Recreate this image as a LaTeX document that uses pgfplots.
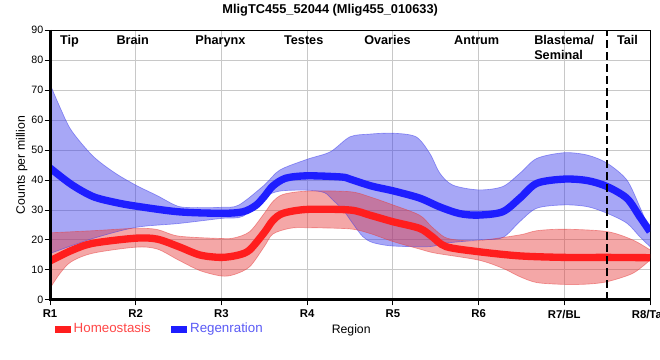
\documentclass[border=0pt]{standalone}
\usepackage{fontspec}
\setmainfont{Liberation Sans}
\usepackage{pgfplots}
\pgfplotsset{compat=1.18}
\usepgfplotslibrary{fillbetween}
\definecolor{hline}{RGB}{255,30,30}
\definecolor{rline}{RGB}{30,30,255}
\definecolor{hfill}{RGB}{230,60,60}
\definecolor{rfill}{RGB}{60,60,235}
\definecolor{htext}{RGB}{255,70,70}
\definecolor{rtext}{RGB}{90,90,245}
\definecolor{gridgray}{RGB}{200,200,200}
\begin{document}
\begin{tikzpicture}
\begin{axis}[
  at={(37.5pt,45pt)}, anchor=south west,
  width=450pt, height=202.5pt, scale only axis,
  xmin=1, xmax=8, ymin=0, ymax=90,
  xtick={1,...,8}, xticklabels={R1,R2,R3,R4,R5,R6,R7/BL,R8/Tail},
  ytick={0,10,...,90},
  grid=major, major grid style={color=gridgray, line width=0.75pt},
  tick align=outside, xtick pos=bottom, ytick pos=left,
  major tick length=4pt, tick style={black, line width=0.75pt},
  axis line style={black, line width=0.75pt},
  x tick label style={font=\bfseries\fontsize{8.5}{10}\selectfont},
  y tick label style={font=\fontsize{8}{10}\selectfont, xshift=2.5pt},
  /pgf/number format/assume math mode=true,
  xlabel={Region}, ylabel={Counts per million},
  xlabel style={at={(axis description cs:0.502,-0.111)}, anchor=center, font=\fontsize{9.2}{11}\selectfont},
  ylabel style={at={(axis description cs:-0.047,0.5)}, anchor=center, font=\fontsize{9.2}{11}\selectfont},
  title={MligTC455\_52044 (Mlig455\_010633)},
  every axis title shift=0pt,
  title style={at={(axis description cs:0.467,1.074)}, anchor=center, font=\bfseries\fontsize{9.6}{11}\selectfont},
  legend style={at={(axis description cs:0.008,-0.108)}, anchor=west, draw=none, fill=none,
    legend columns=2, font=\fontsize{10}{12}\selectfont, inner sep=0pt,
    /tikz/every even column/.append style={column sep=13.5pt}},
  legend image code/.code={\fill[#1] (0pt,-2.6pt) rectangle (12pt,2.6pt);},
]
% Regeneration band
\addplot[name path=bu, draw=rfill, draw opacity=0.5, line width=0.5pt, smooth, forget plot] coordinates {
(1,72) (1.12,64) (1.25,56.5) (1.5,48) (1.75,42.5) (2,38.3) (2.25,34.8) (2.5,31.2) (2.75,30.8) (3,30.9) (3.2,31.6) (3.5,38.3) (3.68,43.3) (4,46.9) (4.27,49.4) (4.5,54.4) (4.73,55.3) (5,55.6) (5.27,54.4) (5.43,48.9) (5.55,42.2) (5.7,38.3) (6,36.7) (6.28,37.8) (6.48,42.2) (6.68,47.2) (7,49.1) (7.27,48.3) (7.5,45.6) (7.73,40) (7.88,31.1) (8,23)};
\addplot[name path=bl, draw=rfill, draw opacity=0.5, line width=0.5pt, smooth, forget plot] coordinates {
(1,15.5) (1.5,20.5) (2,24.2) (2.5,25.5) (3,27.2) (3.25,27.9) (3.5,34.2) (3.68,36.3) (4,36.6) (4.2,35.8) (4.3,33.3) (4.42,30) (4.53,25.6) (4.65,21.1) (4.77,19.1) (5,18) (5.43,17.8) (5.6,18.9) (6,20) (6.28,20.8) (6.48,26.1) (6.68,30.6) (7,31.7) (7.27,31.1) (7.5,28.9) (7.73,25.6) (7.88,21.1) (8,17.8)};
\addplot[fill=rfill, fill opacity=0.45, draw=none, forget plot] fill between[of=bu and bl];
% Homeostasis band
\addplot[name path=ru, draw=hfill, draw opacity=0.5, line width=0.5pt, smooth, forget plot] coordinates {
(1,22.4) (1.5,23.1) (2,23.9) (2.25,23.5) (2.5,21.3) (3,20.5) (3.15,20.7) (3.33,22.8) (3.5,28.9) (3.6,32.8) (3.72,35.2) (4,36.3) (4.5,36.1) (4.73,34.4) (5,31.7) (5.31,28.3) (5.45,24.5) (5.6,21) (5.75,20) (6,19.8) (6.48,21.7) (6.68,23.1) (7,23.6) (7.5,22.8) (7.8,20) (8,16.7)};
\addplot[name path=rl, draw=hfill, draw opacity=0.5, line width=0.5pt, smooth, forget plot] coordinates {
(1,3.9) (1.12,9) (1.25,12.8) (1.5,15.6) (2,17.6) (2.25,17) (2.5,13.3) (2.75,9.8) (3,8) (3.15,8.5) (3.33,11.1) (3.5,17.8) (3.6,22) (3.8,23.9) (4,24.1) (4.5,23.7) (4.73,22.2) (5,19.5) (5.31,17) (5.5,15.6) (6,13.3) (6.28,10.6) (6.48,7.8) (6.68,5.8) (7,5.2) (7.27,5.3) (7.5,6.1) (7.8,8.9) (8,13.3)};
\addplot[fill=hfill, fill opacity=0.45, draw=none, forget plot] fill between[of=ru and rl];
% mean lines
\addplot[rline, line width=5.5pt, smooth, forget plot] coordinates {
(1,44) (1.25,38.5) (1.5,34.5) (1.75,32.6) (2,31.3) (2.5,29.4) (3,28.9) (3.25,29.4) (3.4,31.5) (3.5,34.5) (3.6,38) (3.75,40.6) (4,41.4) (4.4,41) (4.5,40.3) (4.75,38) (5,36.4) (5.31,34) (5.55,31) (5.78,28.8) (6,28.3) (6.28,29.4) (6.48,33.9) (6.68,38.9) (7,40.3) (7.27,39.8) (7.5,37.8) (7.73,33.9) (7.88,27.8) (8,22.8)};
\addplot[hline, line width=5.5pt, smooth, forget plot] coordinates {
(1,13) (1.25,16.5) (1.5,18.9) (2,20.6) (2.25,20.3) (2.5,17.8) (2.75,15) (3,14.2) (3.2,15) (3.33,16.7) (3.5,22.5) (3.6,26.5) (3.72,28.9) (4,30.2) (4.5,30) (4.73,28.3) (5,26.1) (5.31,23.9) (5.45,21.3) (5.62,17.8) (6,16.1) (6.48,14.7) (7,14.2) (7.5,14.2) (8,14.1)};
% divider
\addplot[black, line width=1.8pt, dash pattern=on 6pt off 3pt, forget plot] coordinates {(7.5,0) (7.5,90)};
\addlegendimage{fill=hline, draw=none}
\addlegendentry{\textcolor{htext}{Homeostasis}}
\addlegendimage{fill=rline, draw=none}
\addlegendentry{\textcolor{rtext}{Regenration}}
% region labels
\node[anchor=base, font=\bfseries\fontsize{9.5}{11}\selectfont] at (axis cs:1.227,85.3) {Tip};
\node[anchor=base, font=\bfseries\fontsize{9.5}{11}\selectfont] at (axis cs:1.965,85.3) {Brain};
\node[anchor=base, font=\bfseries\fontsize{9.5}{11}\selectfont] at (axis cs:2.989,85.3) {Pharynx};
\node[anchor=base, font=\bfseries\fontsize{9.5}{11}\selectfont] at (axis cs:3.96,85.3) {Testes};
\node[anchor=base, font=\bfseries\fontsize{9.5}{11}\selectfont] at (axis cs:4.938,85.3) {Ovaries};
\node[anchor=base, font=\bfseries\fontsize{9.5}{11}\selectfont] at (axis cs:5.978,85.3) {Antrum};
\node[anchor=base west, inner sep=0pt, font=\bfseries\fontsize{9.5}{11}\selectfont] at (axis cs:6.647,85.3) {Blastema/};
\node[anchor=base west, inner sep=0pt, font=\bfseries\fontsize{9.5}{11}\selectfont] at (axis cs:6.647,80.2) {Seminal};
\node[anchor=base, font=\bfseries\fontsize{9.5}{11}\selectfont] at (axis cs:7.738,85.3) {Tail};
\end{axis}
\draw[black, line width=2.25pt] (37.5pt,247.5pt) -- (37.5pt,45pt) -- (487.5pt,45pt);
\pgfresetboundingbox
\useasboundingbox (0,0) rectangle (495pt,270pt);
\end{tikzpicture}
\end{document}
